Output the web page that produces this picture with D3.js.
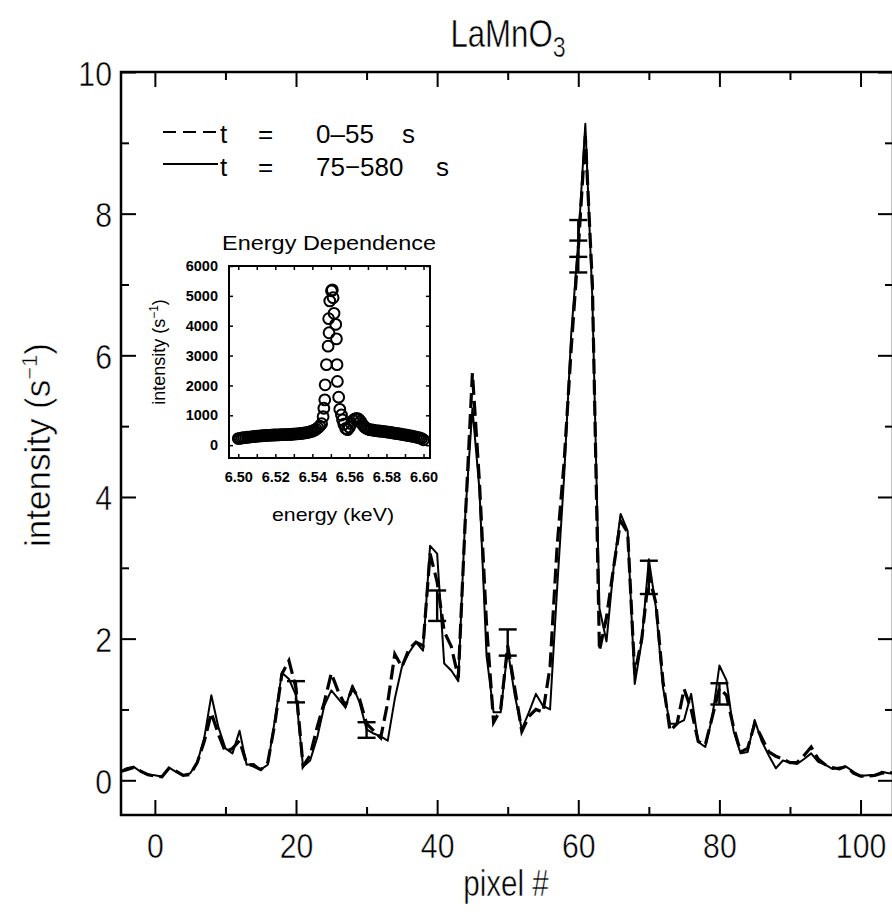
<!DOCTYPE html>
<html>
<head>
<meta charset="utf-8">
<script src="https://cdn.jsdelivr.net/npm/d3@7"></script>
<style>
  body { margin: 0; background: #fff; }
  svg { display: block; }
  .thin { stroke: #fff; stroke-width: 0.5px; }
</style>
</head>
<body>
<div id="chart"></div>
<script>
// main panel: intensity per detector pixel, two time windows
var pixels = [-5,-4,-3,-2,-1,0,1,2,3,4,5,6,7,8,9,10,11,12,13,14,15,16,17,18,19,20,
  21,22,23,24,25,26,27,28,29,30,31,32,33,34,35,36,37,38,39,40,41,42,43,44,45,46,47,48,49,50,
  51,52,53,54,55,56,57,58,59,60,61,62,63,64,65,66,67,68,69,70,71,72,73,74,75,76,77,78,79,80,
  81,82,83,84,85,86,87,88,89,90,91,92,93,94,95,96,97,98,99,100,101,102,103,104,105];

var early = [0.12,0.15,0.18,0.13,0.08,0.06,0.05,0.17,0.13,0.07,0.08,0.25,0.55,0.95,0.65,0.40,
  0.45,0.56,0.24,0.20,0.15,0.25,0.80,1.50,1.69,1.30,0.20,0.35,0.75,1.10,1.51,1.25,1.05,1.30,1.15,0.80,
  0.70,0.60,1.10,1.78,1.60,1.85,1.95,1.90,3.20,2.80,2.10,1.89,1.45,3.70,5.75,4.20,2.20,0.82,1.00,1.90,
  1.30,0.69,0.90,1.00,0.96,1.60,3.30,4.50,6.10,7.50,9.10,7.00,1.83,2.30,3.00,3.66,3.50,1.50,2.00,2.90,
  2.50,1.40,0.70,0.80,1.29,1.00,0.55,0.50,0.90,1.30,1.20,0.75,0.40,0.45,0.80,0.60,0.40,0.34,0.30,0.25,
  0.25,0.35,0.47,0.30,0.22,0.18,0.16,0.20,0.10,0.06,0.06,0.07,0.10,0.11,0.10];

var late = [0.12,0.17,0.19,0.12,0.08,0.07,0.05,0.18,0.12,0.07,0.10,0.25,0.60,1.20,0.75,0.45,
  0.38,0.70,0.22,0.23,0.15,0.22,0.85,1.52,1.43,1.20,0.19,0.28,0.60,1.05,1.27,1.15,1.03,1.34,1.10,0.72,
  0.66,0.62,0.56,1.15,1.60,1.80,1.95,1.83,3.31,3.20,1.65,1.55,1.40,3.77,5.25,4.10,1.76,0.96,0.96,1.85,
  1.20,0.72,0.96,1.22,1.05,1.00,2.70,4.30,6.30,7.60,9.27,6.80,2.43,1.96,3.00,3.76,3.52,1.36,1.97,3.12,
  2.44,1.31,0.80,0.80,0.85,1.22,0.54,0.47,0.90,1.62,1.41,0.70,0.38,0.40,0.85,0.55,0.35,0.17,0.28,0.25,
  0.23,0.30,0.38,0.26,0.22,0.16,0.18,0.19,0.12,0.06,0.07,0.07,0.12,0.10,0.10];

// error bars: pixel, low, high
var errPixels = [20, 30, 40, 50, 60, 60, 70, 80];
var errLow    = [1.10, 0.60, 2.25, 1.76, 7.39, 7.17, 2.63, 1.07];
var errHigh   = [1.40, 0.82, 2.68, 2.13, 7.91, 7.62, 3.10, 1.37];

var xTicks = [0, 20, 40, 60, 80, 100];
var xMinor = [10, 30, 50, 70, 90];
var yTicks = [0, 2, 4, 6, 8, 10];
var yMinor = [1, 3, 5, 7, 9];

// inset: energy scan
var energy = [6.500,6.501,6.502,6.503,6.504,6.505,6.506,6.507,6.508,6.509,6.510,6.511,6.512,6.513,
  6.514,6.515,6.516,6.517,6.518,6.519,6.520,6.521,6.522,6.523,6.524,6.525,6.526,6.527,6.528,6.529,
  6.530,6.531,6.532,6.533,6.534,6.535,6.536,6.537,6.538,6.539,6.540,6.541,6.542,6.543,6.544,6.545,
  6.5458,6.5462,6.5467,6.5469,6.5476,6.5485,6.5488,6.5490,6.5494,6.5503,
  6.5508,6.5512,6.5517,6.5526,6.5530,6.5533,6.5535,6.5542,6.5548,6.5557,6.5563,
  6.557,6.558,6.559,6.560,6.561,6.562,6.563,6.564,6.565,6.566,6.567,6.568,6.569,6.570,6.571,6.572,
  6.573,6.574,6.575,6.576,6.577,6.578,6.579,6.580,6.581,6.582,6.583,6.584,6.585,6.586,6.587,6.588,
  6.589,6.590,6.591,6.592,6.593,6.594,6.595,6.596,6.597,6.598,6.599,6.600];
var counts = [220,230,240,250,255,265,270,280,285,290,300,305,310,315,
  320,325,330,330,335,340,340,345,345,350,350,355,355,360,360,365,
  370,375,380,385,390,400,410,420,435,450,470,500,530,580,640,720,
  955,1236,1517,2022,2697,3315,4236,3764,4830,5170,
  5200,4940,4416,4045,3560,2697,2135,1607,1200,1010,843,
  700,560,520,600,720,830,880,900,870,800,700,620,570,540,520,510,
  500,490,480,475,470,460,455,445,435,425,415,405,395,385,375,365,
  355,345,335,320,310,300,285,270,255,240,220,180];

var eTicks = [6.50, 6.52, 6.54, 6.56, 6.58, 6.60];
var eMinor = [6.51, 6.53, 6.55, 6.57, 6.59];
var cTicks = [0, 1000, 2000, 3000, 4000, 5000, 6000];

var W = 892, H = 914;
var sans = "'Liberation Sans', Arial, Helvetica, sans-serif";

var svg = d3.select("#chart").append("svg")
  .attr("width", W).attr("height", H)
  .style("font-family", sans);

var x = d3.scaleLinear().domain([-4.8, 104.6]).range([121, 893]);
var y = d3.scaleLinear().domain([-0.49, 10]).range([815, 72]);

function styleAxis(g) {
  g.select(".domain").remove();
  g.selectAll("line").attr("stroke", "#000").attr("stroke-width", 2);
  g.selectAll("text").attr("fill", "#000").attr("class", "thin")
    .style("font-size", "36px").style("font-family", sans);
}

// major + minor ticks on all four sides
var gx = svg.append("g").attr("transform", "translate(0,815)")
  .call(d3.axisBottom(x).tickValues(xTicks).tickSize(-15).tickFormat(d3.format("d")))
  .call(styleAxis);
gx.selectAll("text").attr("y", 0).attr("dy", null)
  .attr("transform", "translate(0,43) scale(0.84,1)");
svg.append("g").attr("transform", "translate(0,815)")
  .call(d3.axisBottom(x).tickValues(xMinor).tickSize(-8).tickFormat(""))
  .call(styleAxis);
svg.append("g").attr("transform", "translate(0,72)")
  .call(d3.axisTop(x).tickValues(xTicks).tickSize(-15).tickFormat(""))
  .call(styleAxis);
svg.append("g").attr("transform", "translate(0,72)")
  .call(d3.axisTop(x).tickValues(xMinor).tickSize(-8).tickFormat(""))
  .call(styleAxis);
var gy = svg.append("g").attr("transform", "translate(121,0)")
  .call(d3.axisLeft(y).tickValues(yTicks).tickSize(-15).tickFormat(d3.format("d")))
  .call(styleAxis);
gy.selectAll("text").attr("x", 0).attr("dy", null)
  .attr("transform", "translate(-9,13) scale(0.84,1)");
svg.append("g").attr("transform", "translate(121,0)")
  .call(d3.axisLeft(y).tickValues(yMinor).tickSize(-8).tickFormat(""))
  .call(styleAxis);
svg.append("g").attr("transform", "translate(893,0)")
  .call(d3.axisRight(y).tickValues(yTicks).tickSize(-15).tickFormat(""))
  .call(styleAxis);
svg.append("g").attr("transform", "translate(893,0)")
  .call(d3.axisRight(y).tickValues(yMinor).tickSize(-8).tickFormat(""))
  .call(styleAxis);

// frame
svg.append("rect").attr("x", 121).attr("y", 72).attr("width", 772).attr("height", 743)
  .attr("fill", "none").attr("stroke", "#000").attr("stroke-width", 2.5);

// data lines
var line = d3.line().x(function(d) { return x(d[0]); }).y(function(d) { return y(d[1]); });
svg.append("clipPath").attr("id", "clip").append("rect")
  .attr("x", 121).attr("y", 72).attr("width", 772).attr("height", 743);

svg.append("path").datum(d3.zip(pixels, late))
  .attr("d", line).attr("fill", "none").attr("stroke", "#000")
  .attr("stroke-width", 2).attr("stroke-linejoin", "round").attr("clip-path", "url(#clip)");
svg.append("path").datum(d3.zip(pixels, early))
  .attr("d", line).attr("fill", "none").attr("stroke", "#000")
  .attr("stroke-width", 3.2).attr("stroke-dasharray", "15,6").attr("clip-path", "url(#clip)");

// error bars
var eb = svg.append("g").attr("stroke", "#000").attr("stroke-width", 2.4);
errPixels.forEach(function(p, i) {
  var cx = x(p);
  eb.append("line").attr("x1", cx).attr("x2", cx).attr("y1", y(errLow[i])).attr("y2", y(errHigh[i]));
  eb.append("line").attr("x1", cx - 9).attr("x2", cx + 9).attr("y1", y(errLow[i])).attr("y2", y(errLow[i]));
  eb.append("line").attr("x1", cx - 9).attr("x2", cx + 9).attr("y1", y(errHigh[i])).attr("y2", y(errHigh[i]));
});

// title and axis labels
var title = svg.append("text").attr("class", "thin")
  .attr("transform", "translate(508,47) scale(0.8,1)")
  .attr("text-anchor", "middle").style("font-size", "39px");
title.append("tspan").text("LaMnO");
title.append("tspan").attr("dy", 10).style("font-size", "29px").text("3");

svg.append("text").attr("class", "thin").attr("transform", "translate(506,896) scale(0.8,1)")
  .attr("text-anchor", "middle").style("font-size", "37px").text("pixel  #");

var yl = svg.append("text").attr("class", "thin").attr("transform", "translate(50,445) rotate(-90)")
  .attr("text-anchor", "middle").style("font-size", "35px");
yl.append("tspan").text("intensity (s");
yl.append("tspan").attr("dy", -13).style("font-size", "22px").text("\u22121");
yl.append("tspan").attr("dy", 13).text(")");

// legend
var lg = svg.append("g");
lg.append("line").attr("x1", 163).attr("x2", 218).attr("y1", 132).attr("y2", 132)
  .attr("stroke", "#000").attr("stroke-width", 2).attr("stroke-dasharray", "13,7");
lg.append("line").attr("x1", 163).attr("x2", 218).attr("y1", 164).attr("y2", 164)
  .attr("stroke", "#000").attr("stroke-width", 2);
[[143, "t", "=", "0\u201355", "s", 402], [176, "t", "=", "75\u2212580", "s", 436]].forEach(function(r) {
  var g = lg.append("g").style("font-size", "26px");
  g.append("text").attr("x", 220).attr("y", r[0]).text(r[1]);
  g.append("text").attr("x", 258).attr("y", r[0]).text(r[2]);
  g.append("text").attr("x", 316).attr("y", r[0]).text(r[3]);
  g.append("text").attr("x", r[5]).attr("y", r[0]).text(r[4]);
});

// inset
var ix = d3.scaleLinear().domain([6.495, 6.6035]).range([229, 430]);
var iy = d3.scaleLinear().domain([-430, 6000]).range([458, 266]);
var ins = svg.append("g");

function styleInset(g) {
  g.select(".domain").remove();
  g.selectAll("line").attr("stroke", "#000").attr("stroke-width", 1.5);
  g.selectAll("text").attr("fill", "#000").style("font-size", "14.5px")
    .style("font-weight", "bold").style("font-family", sans);
}
ins.append("g").attr("transform", "translate(0,458)")
  .call(d3.axisBottom(ix).tickValues(eTicks.concat(eMinor)).tickSize(-4).tickPadding(14)
    .tickFormat(function(d) { return eTicks.indexOf(d) >= 0 ? d3.format(".2f")(d) : ""; }))
  .call(styleInset);
ins.append("g").attr("transform", "translate(0,266)")
  .call(d3.axisTop(ix).tickValues(eTicks.concat(eMinor)).tickSize(-4).tickFormat(""))
  .call(styleInset);
ins.append("g").attr("transform", "translate(229,0)")
  .call(d3.axisLeft(iy).tickValues(cTicks).tickSize(-4).tickPadding(11).tickFormat(d3.format("d")))
  .call(styleInset);
ins.append("g").attr("transform", "translate(430,0)")
  .call(d3.axisRight(iy).tickValues(cTicks).tickSize(-4).tickFormat(""))
  .call(styleInset);
ins.append("rect").attr("x", 229).attr("y", 266).attr("width", 201).attr("height", 192)
  .attr("fill", "none").attr("stroke", "#000").attr("stroke-width", 2);

// open (unfilled) circles, so the dense baseline merges into a dark band
ins.selectAll("circle.pt").data(d3.zip(energy, counts)).enter().append("circle")
  .attr("class", "pt")
  .attr("cx", function(d) { return ix(d[0]); })
  .attr("cy", function(d) { return iy(d[1]); })
  .attr("r", 5.4).attr("fill", "none").attr("stroke", "#000").attr("stroke-width", 2);

ins.append("text").attr("x", 329).attr("y", 250).attr("text-anchor", "middle")
  .attr("textLength", 214).attr("lengthAdjust", "spacingAndGlyphs")
  .style("font-size", "21px").text("Energy  Dependence");
ins.append("text").attr("x", 333).attr("y", 521).attr("text-anchor", "middle")
  .attr("textLength", 122).attr("lengthAdjust", "spacingAndGlyphs")
  .style("font-size", "19px").text("energy  (keV)");
var iyl = ins.append("text").attr("transform", "translate(165,352) rotate(-90)")
  .attr("text-anchor", "middle").style("font-size", "18px");
iyl.append("tspan").text("intensity  (s");
iyl.append("tspan").attr("dy", -7).style("font-size", "12px").text("\u22121");
iyl.append("tspan").attr("dy", 7).text(")");
</script>
</body>
</html>
